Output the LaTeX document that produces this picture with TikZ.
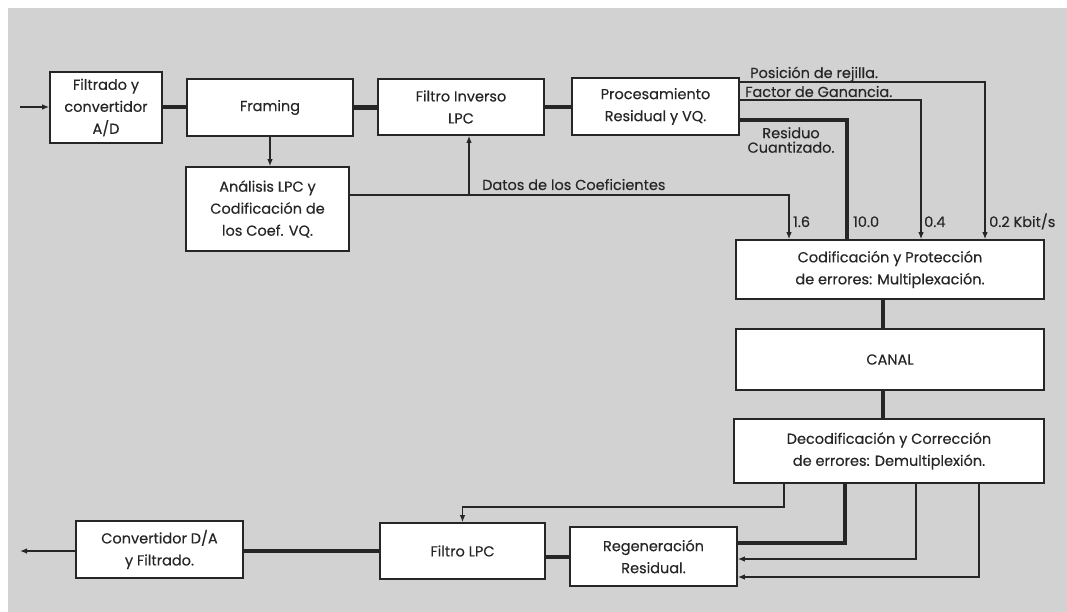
\documentclass[tikz,border=0pt]{standalone}
\usepackage{fontspec}
\setmainfont{Poppins}[FakeBold=0.35]
\usetikzlibrary{arrows.meta,calc}
\definecolor{ink}{HTML}{262626}
\definecolor{paper}{HTML}{D2D2D2}
\newcommand{\boxfnt}{\fontsize{14.5}{22}\selectfont}
\newcommand{\lblfnt}{\fontsize{14.5}{14.5}\selectfont}
\begin{document}
\begin{tikzpicture}[x=1pt,y=-1pt,
  box/.style={draw=ink,line width=1.6pt,fill=white,inner sep=0pt,align=center,text=ink,font=\boxfnt},
  thinln/.style={draw=ink,line width=1.3pt,line join=miter},
  thickln/.style={draw=ink,line width=4.5pt,line join=miter},
  arr/.style={thinln,-{Latex[length=7pt,width=5.5pt]}},
  lbl/.style={text=ink,font=\lblfnt,inner sep=0pt}]

% sheet
\fill[white] (0,0) rectangle (1067,612);
\fill[paper] (8,8) rectangle (1067,612);
\useasboundingbox (0,0) rectangle (1067,612);

% encoder chain
\node[box,minimum width=112pt,minimum height=71pt] (fad) at (106,107.5) {Filtrado y\\convertidor\\A/D};
\node[box,minimum width=166pt,minimum height=57pt] (framing) at (270,107.5) {Framing};
\node[box,minimum width=166pt,minimum height=56pt] (finv) at (461,107) {Filtro Inverso\\LPC};
\node[box,minimum width=167pt,minimum height=57pt] (proc) at (655.5,106.5) {Procesamiento\\Residual y VQ.};
\node[box,minimum width=163pt,minimum height=84pt] (lpc) at (267.5,209) {Análisis LPC y\\Codificación de\\los Coef. VQ.};

% channel column
\node[box,minimum width=308pt,minimum height=59pt] (cod) at (890,269.5) {Codificación y Protección\\de errores: Multiplexación.};
\node[box,minimum width=308pt,minimum height=61pt] (canal) at (890,359.5) {CANAL};
\node[box,minimum width=310pt,minimum height=64pt] (decod) at (889,451) {Decodificación y Corrección\\de errores: Demultiplexión.};

% decoder chain
\node[box,minimum width=167pt,minimum height=59pt] (regen) at (653.5,556.5) {Regeneración\\Residual.};
\node[box,minimum width=165pt,minimum height=56pt] (flpc) at (462.5,551) {Filtro LPC};
\node[box,minimum width=167pt,minimum height=57pt] (da) at (159.5,549.5) {Convertidor D/A\\y Filtrado.};

% input and forward path
\coordinate (in) at (20,107);
\draw[arr] (in) -- (fad.west |- in);
\draw[thickln] (fad.east |- in) -- (framing.west |- in);
\draw[thickln] (framing.east) -- (finv.west |- framing.east);
\draw[thickln] (finv.east) -- (proc.west |- finv.east);
\draw[arr] (framing.south) -- (lpc.north -| framing.south);

% coefficient data
\coordinate (dA) at (789,195);
\coordinate (dB) at (469,195);
\draw[arr] (lpc.east |- dA) -- (dA) -- (cod.north -| dA);
\draw[arr] (dB) -- (finv.south -| dB);
\node[lbl,anchor=base west] (ldat) at (482,190) {Datos de los Coeficientes};

% residual processing outputs
\coordinate (pA) at (985,82);
\coordinate (fA) at (921,100);
\coordinate (rA) at (847,120);
\draw[arr] (proc.east |- pA) -- (pA) -- (cod.north -| pA);
\draw[arr] (proc.east |- fA) -- (fA) -- (cod.north -| fA);
\draw[thickln] (proc.east |- rA) -- (rA) -- (cod.north -| rA);
\node[lbl,anchor=base west] (lpos) at (750,78) {Posición de rejilla.};
\node[lbl,anchor=base west] (lfac) at (745,97) {Factor de Ganancia.};
\node[lbl,align=center] (lres) at (791,140) {Residuo\\Cuantizado.};

% bit rates
\node[lbl,anchor=base west] (r1) at (793,227) {1.6};
\node[lbl,anchor=base west] (r2) at (853,227) {10.0};
\node[lbl,anchor=base west] (r3) at (924,227) {0.4};
\node[lbl,anchor=base west] (r4) at (989,227) {0.2 Kbit/s};

% channel
\coordinate (cx) at (883,0);
\draw[thickln] (cod.south -| cx) -- (canal.north -| cx);
\draw[thickln] (canal.south -| cx) -- (decod.north -| cx);

% demultiplexed streams
\coordinate (b1) at (784,507);
\coordinate (b2) at (845,543);
\coordinate (b3) at (916,559);
\coordinate (b4) at (979,577);
\draw[arr] (decod.south -| b1) -- (b1) -- (b1 -| flpc.north) -- (flpc.north);
\draw[thickln] (decod.south -| b2) -- (b2) -- (regen.east |- b2);
\draw[arr] (decod.south -| b3) -- (b3) -- (regen.east |- b3);
\draw[arr] (decod.south -| b4) -- (b4) -- (regen.east |- b4);

% synthesis path and output
\coordinate (m1) at (0,557);
\draw[thickln] (regen.west |- m1) -- (flpc.east |- m1);
\draw[thickln] (flpc.west) -- (da.east |- flpc.west);
\coordinate (out) at (20,551);
\draw[arr] (da.west |- out) -- (out);
\end{tikzpicture}
\end{document}
